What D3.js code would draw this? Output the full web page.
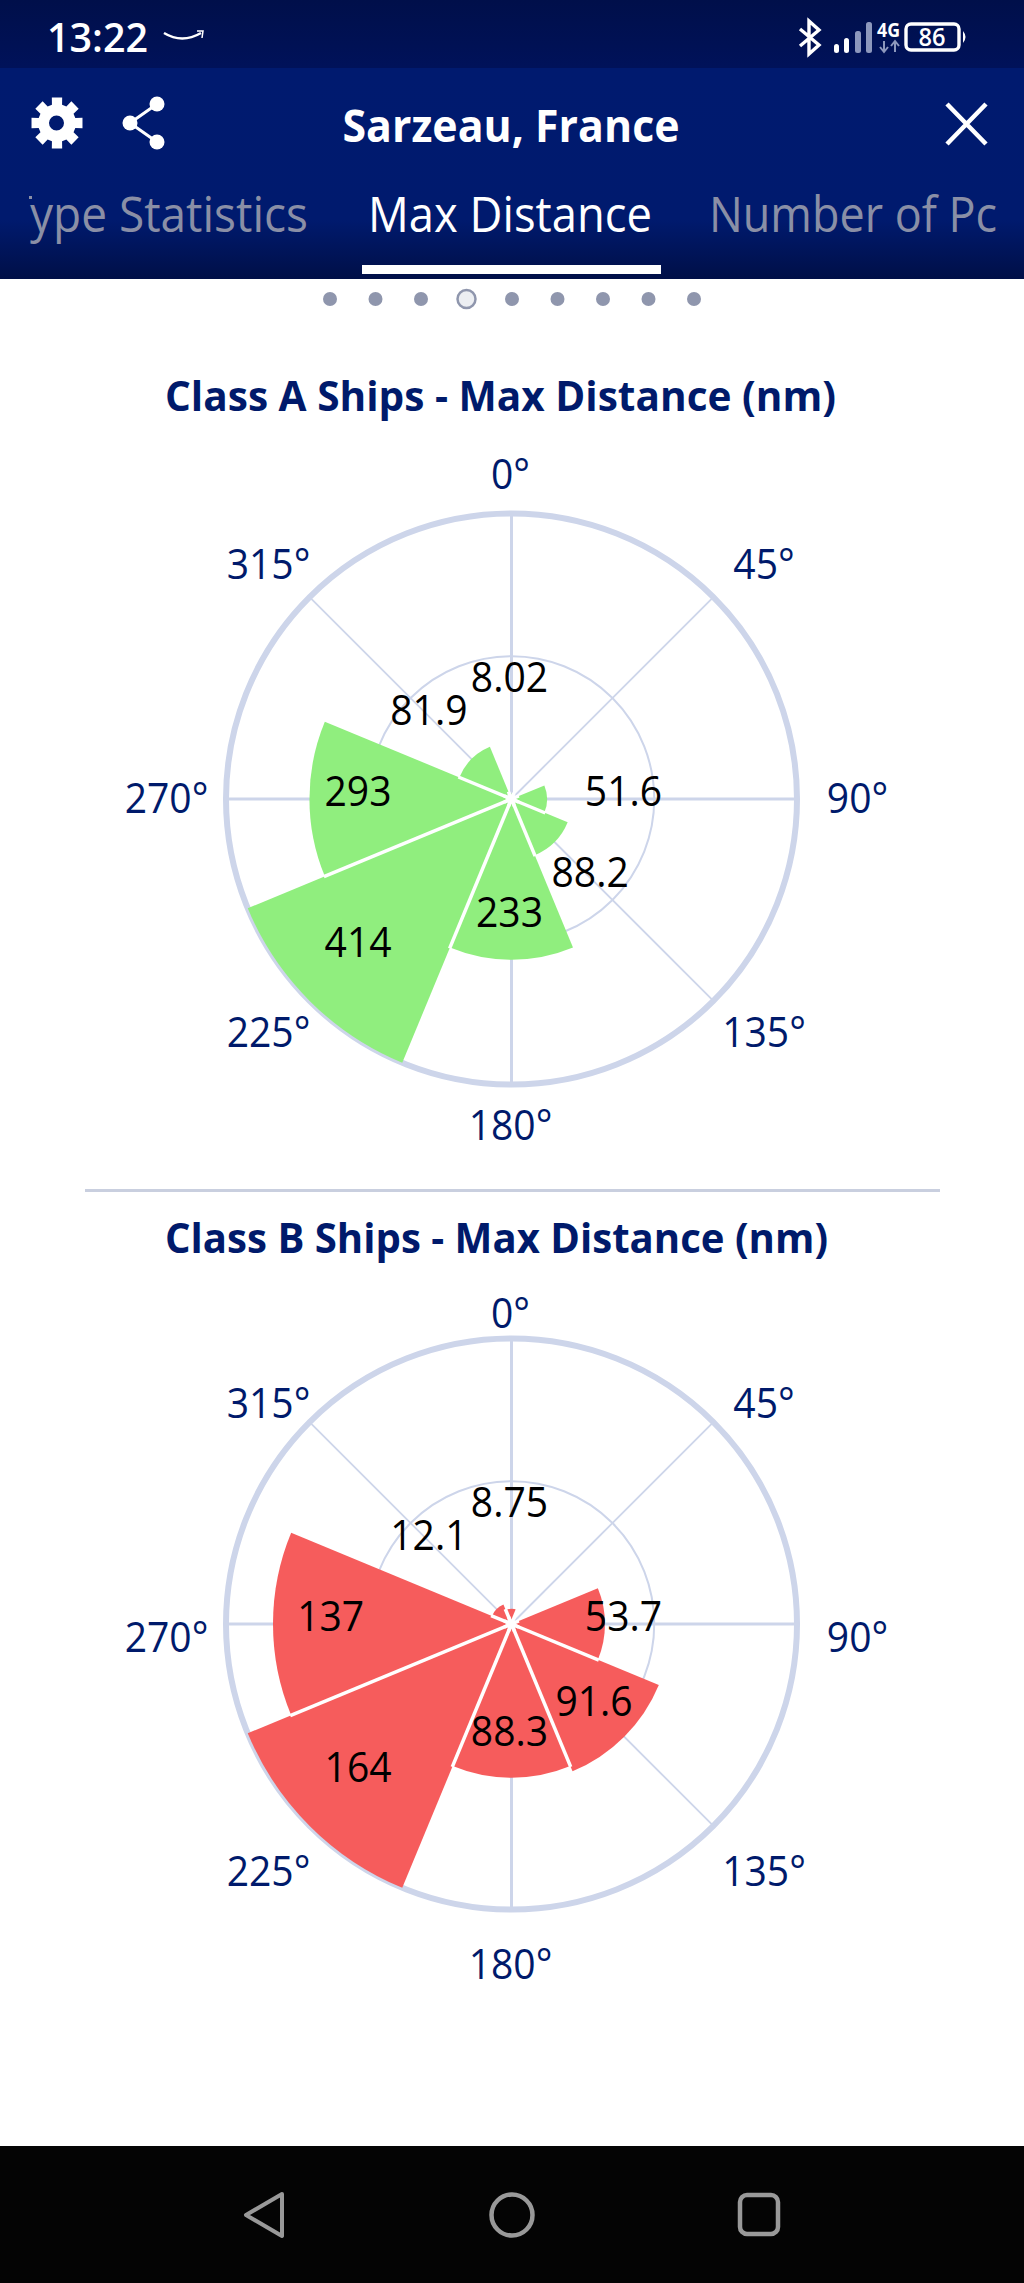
<!DOCTYPE html>
<html><head><meta charset="utf-8">
<script src="https://cdn.jsdelivr.net/npm/d3@7/dist/d3.min.js"></script>
<style>html,body{margin:0;padding:0;background:#fff}svg{display:block}</style>
</head><body><svg id="s" width="1024" height="2283"></svg>
<script>
const directions = [0,45,90,135,180,225,270,315];
const tickLabels = ["0°","45°","90°","135°","180°","225°","270°","315°"];
const classAValues = [8.02,null,51.6,88.2,233,414,293,81.9];
const classBValues = [8.75,null,53.7,91.6,88.3,164,137,12.1];
const classATitle = "Class A Ships - Max Distance (nm)";
const classBTitle = "Class B Ships - Max Distance (nm)";
const pageDots = [0,1,2,3,4,5,6,7,8];
const navy = "#001a6b", gridCol = "#cdd5ea", font = "'Open Sans',sans-serif";
const svg = d3.select("#s");
const defs = svg.append("defs");
function grad(id, stops){
  const g = defs.append("linearGradient").attr("id",id).attr("x1",0).attr("x2",0).attr("y1",0).attr("y2",1);
  stops.forEach(s=>g.append("stop").attr("offset",s[0]).attr("stop-color",s[1]));
}
grad("gStatus",[[0,"#000f4a"],[1,"#00125a"]]);
grad("gHead",[[0,"#001a6f"],[0.72,"#001a6e"],[1,"#000f47"]]);

// chrome
svg.append("rect").attr("width",1024).attr("height",68).attr("fill","url(#gStatus)");
svg.append("rect").attr("y",68).attr("width",1024).attr("height",211).attr("fill","url(#gHead)");
function txt(x,y,t,size,fill,opts={}){
  const e = svg.append("text").attr("x",x).attr("y",y).text(t).attr("font-size",size).attr("fill",fill)
    .attr("font-family",opts.font||font).attr("font-weight",opts.weight||400).attr("text-anchor",opts.anchor||"start");
  if(opts.len) e.attr("textLength",opts.len).attr("lengthAdjust","spacingAndGlyphs");
  return e;
}
// narrows a selection of texts so the taller glyphs keep the reference's widths
function squeeze(sel,k){
  sel.each(function(){
    this.setAttribute("textLength",this.getComputedTextLength()*k);
    this.setAttribute("lengthAdjust","spacingAndGlyphs");
  });
}
txt(47,52,"13:22",40,"#fff",{weight:600,len:101});
svg.append("path").attr("d","M164 33 Q182 44 201 33").attr("fill","none").attr("stroke","#fff").attr("stroke-width",2.5);
svg.append("path").attr("d","M197 31 L203 31 L202 38").attr("fill","none").attr("stroke","#fff").attr("stroke-width",1.5);
// bluetooth
svg.append("path").attr("d","M800 29 L819 45 L809 54 L809 21 L819 30 L800 46").attr("fill","none").attr("stroke","#fff").attr("stroke-width",3.4);
// signal
[[834,5,9,"#fff"],[844,5,15,"#fff"],[855,6,22,"#8d98bd"],[866,6,31,"#8d98bd"]].forEach(b=>{
  svg.append("rect").attr("x",b[0]).attr("y",53-b[2]).attr("width",b[1]).attr("height",b[2]).attr("rx",2.5).attr("fill",b[3]);
});
txt(877,37,"4G",20,"#fff",{weight:700,len:23});
svg.append("path").attr("d","M884 52 V41 M880 47 L884 52 L888 47 M895 52 V41 M891 46 L895 41 L899 46").attr("fill","none").attr("stroke","#8d98bd").attr("stroke-width",2);
svg.append("rect").attr("x",906).attr("y",24).attr("width",53).attr("height",26).attr("rx",5).attr("fill","none").attr("stroke","#fff").attr("stroke-width",3.4);
txt(932,46,"86",26,"#fff",{weight:600,anchor:"middle",len:27});
svg.append("path").attr("d","M963 31 Q968 37 963 43 Z").attr("fill","#fff");
// gear
const gear = d3.range(8).flatMap(i=>{
  const a=i*Math.PI/4, w=0.27, u=0.2;
  return [[a-w,19],[a-u,26],[a+u,26],[a+w,19]].map(p=>[57+p[1]*Math.sin(p[0]),113+p[1]*-Math.cos(p[0])]);
});
svg.append("path").attr("fill","#fff").attr("fill-rule","evenodd")
  .attr("d","M"+gear.map(p=>p.join(",")).join("L")+"Z M64 113 a7.5 7.5 0 1 0 -15 0 a7.5 7.5 0 1 0 15 0 Z")
  .attr("transform","translate(0,10)");
// share
svg.append("path").attr("d","M157 104 L130 123 L157 142").attr("fill","none").attr("stroke","#fff").attr("stroke-width",3);
[[157,104],[130,123],[157,142]].forEach(c=>svg.append("circle").attr("cx",c[0]).attr("cy",c[1]).attr("r",7.5).attr("fill","#fff"));
txt(511,142,"Sarzeau, France",44,"#fff",{weight:700,anchor:"middle",len:337});
svg.append("path").attr("d","M947 104 L986 144 M986 104 L947 144").attr("stroke","#fff").attr("stroke-width",4.5).attr("fill","none");
// tabs
function tab(x,t,fill,len){
  svg.append("text").attr("x",x).attr("y",232).text(t).attr("font-size",50).attr("font-family",font).attr("fill",fill)
    .attr("textLength",len).attr("lengthAdjust","spacingAndGlyphs");
}
tab(30,"ype Statistics","#8a8fa6",278);
svg.append("rect").attr("x",29).attr("y",196).attr("width",3).attr("height",3).attr("fill","#8a8fa6");
tab(368,"Max Distance","#fff",284);
tab(709,"Number of Pc","#8a8fa6",288);
svg.append("rect").attr("x",362).attr("y",265).attr("width",299).attr("height",9).attr("fill","#fff");
// page dots
const dotX = d3.scaleLinear().domain([0,8]).range([330,694]);
svg.selectAll(".pd").data(pageDots).join("circle").attr("class","pd")
  .attr("cx",d=>dotX(d)).attr("cy",299).attr("r",d=>d===3?9:7)
  .attr("fill",d=>d===3?"#eceef2":"#8f96ad").attr("stroke",d=>d===3?"#8f96ad":"none").attr("stroke-width",2.5);
// bottom nav
svg.append("rect").attr("y",2146).attr("width",1024).attr("height",137).attr("fill","#040404");
svg.append("path").attr("fill","none").attr("stroke","#999").attr("stroke-width",4).attr("stroke-linejoin","round")
  .attr("d","M282 2194 L246 2215 L282 2236 Z");
svg.append("circle").attr("cx",512).attr("cy",2215).attr("r",20.5).attr("fill","none").attr("stroke","#999").attr("stroke-width",4.5);
svg.append("rect").attr("x",740).attr("y",2195).attr("width",38).attr("height",39).attr("rx",7).attr("fill","none").attr("stroke","#999").attr("stroke-width",4.5);
// divider
svg.append("rect").attr("x",85).attr("y",1189).attr("width",855).attr("height",3).attr("fill","#c9cfdf");

function polar(cfg){
  const cx=511.5, cy=cfg.cy, R=285.5;
  const g = svg.append("g").attr("transform",`translate(${cx},${cy})`);
  const r = d3.scaleLinear().domain([0,d3.max(cfg.values)]).range([0,R]);
  const angle = d3.scaleLinear().domain([0,360]).range([0,2*Math.PI]);
  const half = 22.5;
  // grid
  g.append("circle").attr("r",R).attr("fill","none").attr("stroke",gridCol).attr("stroke-width",6);
  g.append("circle").attr("r",r(d3.max(cfg.values)/2)).attr("fill","none").attr("stroke",gridCol).attr("stroke-width",2);
  g.selectAll(".spoke").data(directions).join("line").attr("class","spoke")
    .attr("x2",d=>R*Math.sin(angle(d))).attr("y2",d=>-R*Math.cos(angle(d)))
    .attr("stroke",gridCol).attr("stroke-width",d=>d%90===0?3:1.8);
  // bars
  const bars = directions.map((d,i)=>({d,v:cfg.values[i],i})).filter(b=>b.v!=null);
  const arc = d3.arc().innerRadius(0);
  g.selectAll(".bar").data(bars).join("path").attr("class","bar").attr("fill",cfg.color)
    .attr("d",b=>arc({outerRadius:r(b.v),startAngle:angle(b.d-half),endAngle:angle(b.d+half)}));
  // white separators between neighbouring bars
  g.selectAll(".sep").data(bars).join("line").attr("class","sep").attr("stroke","#fff").attr("stroke-width",3.5)
    .each(function(b){
      const nb = cfg.values[(b.i+1)%directions.length];
      const own = r(b.v)+1, other = nb==null?own:r(nb)+1, len = Math.min(own,other), a = angle(b.d+half);
      d3.select(this).attr("x2",len*Math.sin(a)).attr("y2",-len*Math.cos(a));
    });
  g.selectAll(".sep0").data(bars).join("line").attr("class","sep0").attr("stroke","#fff").attr("stroke-width",3.5)
    .each(function(b){
      const a = angle(b.d-half), len = 8;
      d3.select(this).attr("x2",len*Math.sin(a)).attr("y2",-len*Math.cos(a));
    });
  // value labels
  const vals = g.selectAll(".val").data(bars).join("text").attr("class","val")
    .attr("font-family",font).attr("font-size",42).attr("fill","#000").attr("text-anchor","middle")
    .attr("x",b=>Math.max(114,0.75*r(b.v))*Math.sin(angle(b.d))-2)
    .attr("y",b=>-Math.max(114,0.75*r(b.v))*Math.cos(angle(b.d))-8+15)
    .text(b=>b.v);
  squeeze(vals,0.93);
  // angular ticks
  const ticks = g.selectAll(".tick").data(directions).join("text").attr("class","tick")
    .attr("font-family",font).attr("font-size",42).attr("fill",navy).attr("text-anchor","middle")
    .attr("x",d=>{const s=Math.sin(angle(d)); const diag=d%90!==0; return diag?(s>0?252.5:-243):(s>0.5?346:s<-0.5?-345:-1);})
    .attr("y",d=>{const c=Math.cos(angle(d)); const diag=d%90!==0; return cfg.tickDy+15+(diag?(c>0?-234:234):(c>0.5?-324:c<-0.5?327:0));})
    .text((d,i)=>tickLabels[i]);
  squeeze(ticks,0.93);
  txt(165,cfg.titleY,cfg.title,42,navy,{weight:700,len:cfg.titleLen});
}
polar({cy:799,values:classAValues,color:"#90ee7e",tickDy:-1,title:classATitle,titleY:411,titleLen:671});
polar({cy:1624,values:classBValues,color:"#f65c5c",tickDy:13,title:classBTitle,titleY:1253,titleLen:663});
</script></body></html>
